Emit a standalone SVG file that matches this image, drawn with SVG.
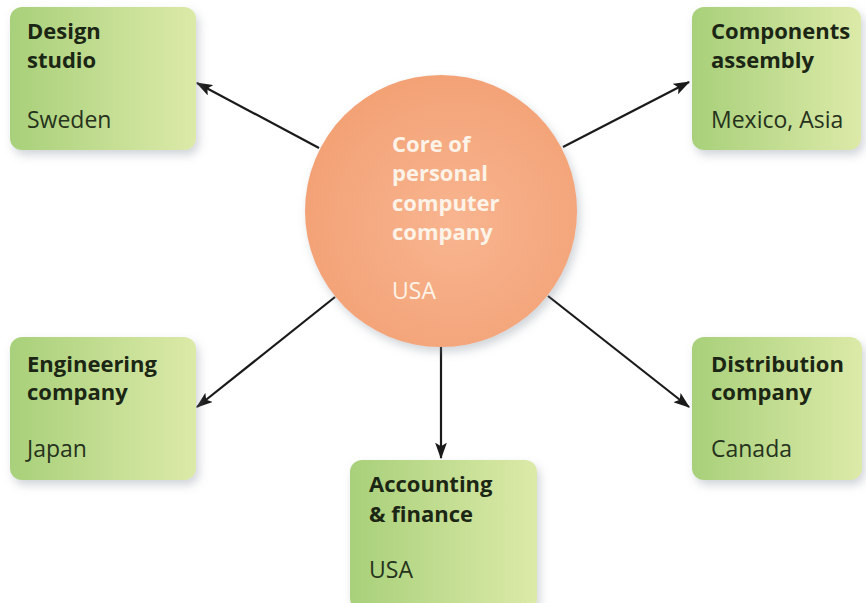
<svg xmlns="http://www.w3.org/2000/svg" width="866" height="603" viewBox="0 0 866 603">
  <defs>
    <linearGradient id="boxGrad" x1="0" y1="0" x2="1" y2="0">
      <stop offset="0" stop-color="#a8d07a"/>
      <stop offset="1" stop-color="#dceaa8"/>
    </linearGradient>
    <radialGradient id="circGrad" cx="0.55" cy="0.55" r="0.55">
      <stop offset="0" stop-color="#f8b590"/>
      <stop offset="1" stop-color="#f3a276"/>
    </radialGradient>
    <filter id="shadow" x="-20%" y="-20%" width="150%" height="150%">
      <feDropShadow dx="3" dy="5" stdDeviation="5" flood-color="#7a8590" flood-opacity="0.35"/>
    </filter>
    <marker id="arrow" viewBox="0 0 14 10" refX="13" refY="5" markerWidth="7.5" markerHeight="5.4" markerUnits="strokeWidth" orient="auto">
      <path d="M0,0 L14,5 L0,10 L3,5 Z" fill="#1a1a1a"/>
    </marker>
  </defs>
  <style>
    .box { fill: url(#boxGrad); filter: url(#shadow); }
    .title { font-family: "Open Sans", "Noto Sans", sans-serif; font-weight: 700; font-size: 22px; fill: #1c2614; }
    .place { font-family: "Open Sans", "Noto Sans", sans-serif; font-weight: 400; font-size: 23px; fill: #26321c; }
    .ctitle { font-family: "Open Sans", "Noto Sans", sans-serif; font-weight: 700; font-size: 22px; fill: #fdf3e8; }
    .cplace { font-family: "Open Sans", "Noto Sans", sans-serif; font-weight: 400; font-size: 23px; fill: #fdf3e8; }
    .conn { stroke: #1a1a1a; stroke-width: 2.2; fill: none; marker-end: url(#arrow); }
  </style>
  <rect width="866" height="603" fill="#ffffff"/>

  <g id="connectors">
    <line class="conn" x1="319" y1="148" x2="197" y2="83"/>
    <line class="conn" x1="563" y1="147" x2="689" y2="82"/>
    <line class="conn" x1="335" y1="297" x2="197" y2="407"/>
    <line class="conn" x1="441" y1="347" x2="441" y2="458"/>
    <line class="conn" x1="548" y1="296" x2="689" y2="407"/>
  </g>

  <g id="core">
    <circle cx="441" cy="211" r="136" fill="url(#circGrad)" filter="url(#shadow)"/>
    <text class="ctitle" x="392" y="152">Core of</text>
    <text class="ctitle" x="392" y="181">personal</text>
    <text class="ctitle" x="392" y="211">computer</text>
    <text class="ctitle" x="392" y="240">company</text>
    <text class="cplace" x="392" y="299">USA</text>
  </g>

  <g id="design">
    <rect class="box" x="10" y="7" width="186" height="143" rx="12"/>
    <text class="title" x="27" y="39">Design</text>
    <text class="title" x="27" y="68">studio</text>
    <text class="place" x="27" y="128">Sweden</text>
  </g>

  <g id="components">
    <rect class="box" x="692" y="7" width="169" height="143" rx="12"/>
    <text class="title" x="711" y="39">Components</text>
    <text class="title" x="711" y="68">assembly</text>
    <text class="place" x="711" y="128">Mexico, Asia</text>
  </g>

  <g id="engineering">
    <rect class="box" x="10" y="337" width="186" height="143" rx="12"/>
    <text class="title" x="27" y="372">Engineering</text>
    <text class="title" x="27" y="400">company</text>
    <text class="place" x="27" y="457">Japan</text>
  </g>

  <g id="accounting">
    <rect class="box" x="350" y="460" width="187" height="150" rx="12"/>
    <text class="title" x="369" y="492">Accounting</text>
    <text class="title" x="369" y="522">&amp; finance</text>
    <text class="place" x="369" y="578">USA</text>
  </g>

  <g id="distribution">
    <rect class="box" x="692" y="337" width="170" height="143" rx="12"/>
    <text class="title" x="711" y="372">Distribution</text>
    <text class="title" x="711" y="400">company</text>
    <text class="place" x="711" y="457">Canada</text>
  </g>
</svg>
